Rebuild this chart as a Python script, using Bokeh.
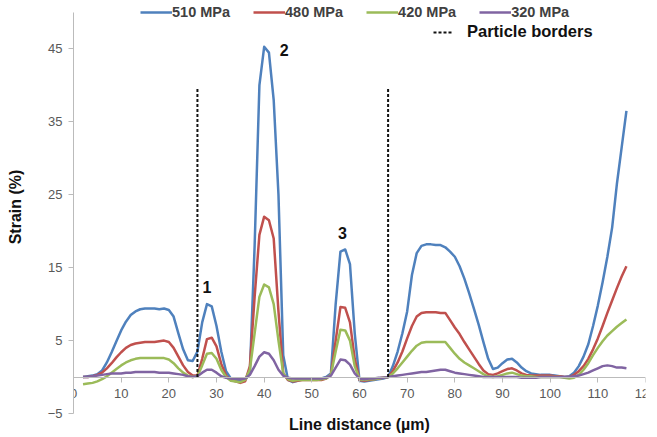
from bokeh.plotting import figure
from bokeh.models import Range1d, LinearAxis, FixedTicker, Legend, LegendItem
from bokeh.core.properties import value
from bokeh.embed import file_html
from bokeh.resources import INLINE

# ---- data -------------------------------------------------------------
distance = list(range(2, 117))  # line distance (µm)

s510 = [0.0, 0.1, 0.2, 0.4, 0.9, 2.0, 3.4, 4.9, 6.4, 7.6,
        8.5, 9.0, 9.3, 9.4, 9.4, 9.4, 9.3, 9.4, 9.2, 8.3,
        6.0, 3.8, 2.3, 2.2, 3.5, 7.5, 10.0, 9.7, 7.0, 3.5,
        0.8, -0.2, -0.4, -0.5, -0.4, 0.5, 18.0, 40.0, 45.3, 44.5,
        38.0, 25.0, 3.0, -0.4, -0.7, -0.5, -0.3, -0.3, -0.3, -0.3,
        -0.2, 0.0, 0.5, 10.0, 17.2, 17.5, 15.5, 6.0, -0.5, -0.6,
        -0.5, -0.4, -0.3, -0.2, 0.0, 1.5, 3.5, 6.0, 9.0, 14.0,
        17.0, 18.0, 18.2, 18.2, 18.1, 18.1, 17.8, 17.2, 16.5, 15.2,
        13.5, 11.5, 9.4, 7.2, 4.8, 2.5, 1.1, 1.3, 1.9, 2.4,
        2.5, 2.0, 1.3, 0.8, 0.5, 0.4, 0.3, 0.3, 0.3, 0.2,
        0.1, 0.0, 0.1, 0.6, 1.5, 2.8, 4.5, 7.0, 9.8, 13.0,
        16.5, 20.5, 26.5, 31.5, 36.5]

s480 = [0.0, 0.0, 0.1, 0.3, 0.6, 1.2, 1.9, 2.7, 3.4, 4.0,
        4.4, 4.6, 4.7, 4.8, 4.8, 4.8, 4.9, 5.0, 4.8, 4.0,
        2.8, 1.6, 0.7, 0.2, 0.2, 2.5, 5.2, 5.4, 4.2, 1.8,
        0.2, -0.4, -0.6, -0.8, -0.6, 1.5, 11.0, 19.5, 22.0, 21.5,
        19.0, 9.0, 0.5, -0.4, -0.6, -0.5, -0.4, -0.4, -0.4, -0.4,
        -0.4, -0.2, 0.3, 5.0, 9.6, 9.5, 7.5, 2.5, -0.4, -0.5,
        -0.4, -0.3, -0.2, -0.1, 0.0, 0.8, 2.0, 3.5, 5.3, 7.0,
        8.3, 8.8, 8.9, 8.9, 8.9, 8.8, 8.8, 7.8, 6.8, 5.9,
        4.8, 3.8, 2.8, 1.8, 0.9, 0.4, 0.3, 0.5, 0.8, 1.1,
        1.2, 0.9, 0.5, 0.3, 0.2, 0.2, 0.2, 0.2, 0.2, 0.1,
        0.1, 0.0, 0.0, 0.3, 0.8, 1.5, 2.5, 3.8, 5.3, 7.0,
        8.8, 10.5, 12.2, 13.8, 15.2]

s420 = [-1.0, -0.9, -0.8, -0.6, -0.3, 0.1, 0.6, 1.1, 1.6, 2.0,
        2.3, 2.5, 2.6, 2.6, 2.6, 2.6, 2.6, 2.6, 2.4, 1.9,
        1.2, 0.6, 0.2, 0.0, 0.1, 1.6, 3.2, 3.3, 2.5, 1.0,
        0.0, -0.5, -0.6, -0.7, -0.4, 1.0, 6.0, 11.0, 12.7, 12.3,
        10.0, 5.0, 0.5, -0.3, -0.5, -0.4, -0.4, -0.4, -0.4, -0.4,
        -0.3, -0.2, 0.3, 3.5, 6.5, 6.4, 5.0, 1.5, -0.3, -0.4,
        -0.3, -0.3, -0.2, -0.1, 0.0, 0.5, 1.2, 2.0, 2.8, 3.6,
        4.3, 4.7, 4.8, 4.8, 4.8, 4.8, 4.8, 4.0, 3.2, 2.5,
        2.0, 1.6, 1.2, 0.8, 0.4, 0.1, 0.0, 0.1, 0.3, 0.5,
        0.6, 0.4, 0.2, 0.1, 0.1, 0.0, 0.0, 0.0, 0.0, 0.0,
        0.0, -0.1, -0.2, -0.1, 0.3, 1.0, 1.9, 3.0, 4.0, 4.9,
        5.7, 6.3, 6.9, 7.4, 7.9]

s320 = [0.0, 0.0, 0.1, 0.2, 0.3, 0.4, 0.5, 0.5, 0.5, 0.6,
        0.6, 0.7, 0.7, 0.7, 0.7, 0.7, 0.6, 0.6, 0.6, 0.5,
        0.4, 0.3, 0.1, 0.0, 0.1, 0.6, 1.0, 1.0, 0.6, 0.1,
        -0.1, -0.2, -0.2, -0.3, -0.2, 0.3, 1.5, 2.8, 3.4, 3.2,
        2.3, 1.0, 0.2, -0.1, -0.2, -0.2, -0.2, -0.2, -0.2, -0.2,
        -0.2, -0.1, 0.2, 1.3, 2.4, 2.3, 1.7, 0.5, -0.2, -0.3,
        -0.2, -0.2, -0.1, -0.1, 0.0, 0.1, 0.2, 0.3, 0.4, 0.5,
        0.6, 0.7, 0.7, 0.8, 0.9, 1.0, 1.0, 0.8, 0.6, 0.5,
        0.4, 0.3, 0.2, 0.1, 0.0, 0.0, 0.0, 0.0, 0.0, 0.0,
        0.0, 0.0, -0.1, -0.1, -0.1, -0.1, 0.0, 0.0, 0.0, 0.0,
        0.0, 0.0, 0.0, 0.1, 0.2, 0.4, 0.6, 0.9, 1.2, 1.5,
        1.6, 1.5, 1.3, 1.3, 1.2]

series_names = ["510 MPa", "480 MPa", "420 MPa", "320 MPa"]
series_colors = ["#4F81BD", "#C0504D", "#9BBB59", "#8064A2"]

border_x = [26, 66]
border_bottom = [0, 0]
border_top = [39.5, 39.5]

peak_text = ["1", "2", "3"]
peak_x = [28.0, 44.2, 56.4]
peak_y = [12.3, 44.9, 19.7]

x_ticks = list(range(0, 121, 10))
y_ticks = [-5, 5, 15, 25, 35, 45]
y_axis_min, y_axis_max = -5, 50

FONT = "Liberation Sans"

# ---- figure -----------------------------------------------------------
# frame reaches to the canvas top so the legend (drawn above the axis top) is not clipped
p = figure(width=657, height=437, x_range=Range1d(0, 120), y_range=Range1d(-5, 51.65),
           output_backend="svg", toolbar_location=None,
           x_axis_location=None, y_axis_location=None,
           min_border_left=73, min_border_right=12, min_border_top=0, min_border_bottom=24)
p.outline_line_color = None
p.grid.visible = False
p.background_fill_color = "white"

AX = "#BBBBBB"

yax = LinearAxis(ticker=FixedTicker(ticks=y_ticks), axis_label="Strain (%)",
                 bounds=(y_axis_min, y_axis_max))
yax.axis_line_color = AX
yax.major_tick_line_color = AX
yax.minor_tick_line_color = None
yax.major_tick_in = 0
yax.major_tick_out = 5
yax.major_label_standoff = 6
yax.major_label_text_font = FONT
yax.major_label_text_font_size = "13px"
yax.major_label_text_color = "#595959"
yax.axis_label_text_font = FONT
yax.axis_label_text_font_style = "bold"
yax.axis_label_text_font_size = "16px"
yax.axis_label_text_color = "#111111"
yax.axis_label_standoff = 21
p.add_layout(yax, "left")

xax = LinearAxis(ticker=FixedTicker(ticks=x_ticks), fixed_location=0)
xax.axis_line_color = AX
xax.major_tick_line_color = AX
xax.minor_tick_line_color = None
xax.major_tick_in = 0
xax.major_tick_out = 5
xax.major_label_standoff = 7
xax.major_label_text_font = FONT
xax.major_label_text_font_size = "13px"
xax.major_label_text_color = "#595959"
p.add_layout(xax, "below")

xlab = LinearAxis(ticker=FixedTicker(ticks=[]), axis_label="Line distance (µm)")
xlab.axis_line_color = None
xlab.major_tick_line_color = None
xlab.minor_tick_line_color = None
xlab.major_tick_in = 0
xlab.major_tick_out = 0
xlab.minor_tick_out = 0
xlab.major_label_standoff = 0
xlab.axis_label_standoff = 2
xlab.axis_label_text_font = FONT
xlab.axis_label_text_font_style = "bold"
xlab.axis_label_text_font_size = "16px"
xlab.axis_label_text_color = "#111111"
p.add_layout(xlab, "below")

# ---- series -----------------------------------------------------------
renderers = []
for ys, c in zip([s510, s480, s420, s320], series_colors):
    r = p.line(distance, ys, line_color=c, line_width=2.5, line_join="round")
    renderers.append(r)

borders = p.segment(x0=border_x, y0=border_bottom, x1=border_x, y1=border_top,
                    line_color="#111111", line_width=2, line_dash="3 2")

p.text(x=peak_x, y=peak_y, text=peak_text, text_font=value(FONT), text_font_style="bold",
       text_font_size="16px", text_align="center", text_baseline="middle", text_color="#111111")

# ---- legends ----------------------------------------------------------
leg = Legend(items=[LegendItem(label=n, renderers=[r]) for n, r in zip(series_names, renderers)],
             orientation="horizontal", location=(67, 393),
             glyph_width=32, glyph_height=14, label_height=14, label_standoff=0,
             spacing=23, padding=0, margin=0, border_line_color=None,
             background_fill_alpha=0,
             label_text_font=FONT, label_text_font_style="bold",
             label_text_font_size="14.5px", label_text_color="#404040")
p.add_layout(leg)

leg2 = Legend(items=[LegendItem(label="Particle borders", renderers=[borders])],
              orientation="horizontal", location=(360, 372),
              glyph_width=20, glyph_height=16, label_height=16, label_standoff=14,
              padding=0, margin=0, border_line_color=None, background_fill_alpha=0,
              label_text_font=FONT, label_text_font_style="bold",
              label_text_font_size="16.5px", label_text_color="#111111")
p.add_layout(leg2)

open("out.html", "w").write(file_html(p, INLINE))
